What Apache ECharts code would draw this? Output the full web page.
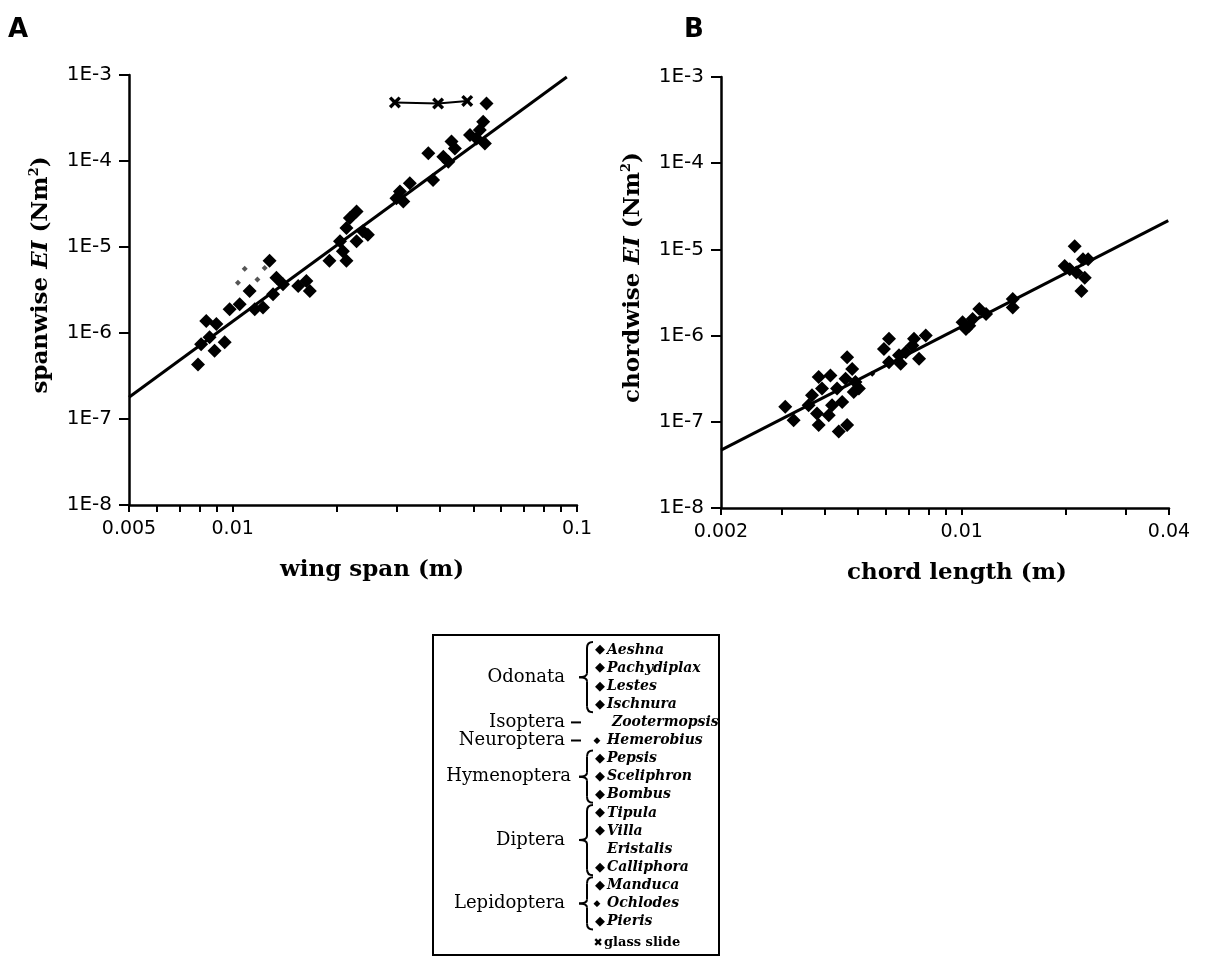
<!DOCTYPE html>
<html>
<head>
<meta charset="utf-8">
<title>wing flexural stiffness</title>
<script src="https://cdn.jsdelivr.net/npm/echarts@6.0.0/dist/echarts.min.js"></script>
<style>
  html, body { margin: 0; padding: 0; background: #fff; }
  #main { width: 1205px; height: 958px; }
</style>
</head>
<body>
<div id="main"></div>
<script>
// ---- panel A : spanwise EI vs wing span ----
var spanX = [0.00793, 0.00886, 0.00948, 0.00838, 0.00897, 0.0081, 0.00857, 0.0098, 0.01048, 0.01159,
  0.01225, 0.0112, 0.0128, 0.0134, 0.0131, 0.014, 0.01637, 0.01675, 0.0155, 0.0191,
  0.0214, 0.0209, 0.0229, 0.0219, 0.0239, 0.0247, 0.0214, 0.0229, 0.0205, 0.0306,
  0.0327, 0.0313, 0.0299, 0.037, 0.0382, 0.0409, 0.0432, 0.0442, 0.0423, 0.0489,
  0.0522, 0.054, 0.0534, 0.0546, 0.0511];
var spanEI = [4.3e-7, 6.2e-7, 7.8e-7, 1.38e-6, 1.27e-6, 7.4e-7, 8.9e-7, 1.89e-6, 2.16e-6, 1.89e-6,
  1.98e-6, 3.08e-6, 6.9e-6, 4.4e-6, 2.82e-6, 3.68e-6, 4.02e-6, 3.08e-6, 3.52e-6, 6.9e-6,
  6.9e-6, 8.9e-6, 2.59e-5, 2.17e-5, 1.52e-5, 1.39e-5, 1.66e-5, 1.17e-5, 1.17e-5, 4.43e-5,
  5.5e-5, 3.39e-5, 3.7e-5, 1.23e-4, 6.0e-5, 1.12e-4, 1.68e-4, 1.4e-4, 9.8e-5, 2.0e-4,
  2.29e-4, 1.6e-4, 2.86e-4, 4.66e-4, 1.83e-4];
var spanSmallX = [0.01084, 0.01036, 0.0118, 0.01239];
var spanSmallEI = [5.6e-6, 3.85e-6, 4.2e-6, 5.7e-6];
var glassX = [0.0296, 0.0395, 0.048];
var glassEI = [4.8e-4, 4.66e-4, 5.0e-4];
var spanFitX = [0.005, 0.0934];
var spanFitEI = [1.79e-7, 9.5e-4];

// ---- panel B : chordwise EI vs chord length ----
var chordX = [0.003073, 0.00325, 0.003594, 0.0038, 0.003844, 0.003675, 0.004111, 0.00393, 0.004157, 0.003844,
  0.004395, 0.004648, 0.004648, 0.004808, 0.0046, 0.00486, 0.005028, 0.004497, 0.004346, 0.004915,
  0.004203, 0.005945, 0.00615, 0.00615, 0.006651, 0.006878, 0.00719, 0.007519, 0.007864, 0.00727,
  0.006577, 0.01006, 0.01052, 0.01125, 0.01076, 0.01177, 0.01029, 0.01407, 0.01407, 0.0206,
  0.02129, 0.02251, 0.02277, 0.02227, 0.01991, 0.02153, 0.02329];
var chordEI = [1.49e-7, 1.04e-7, 1.56e-7, 1.25e-7, 9.2e-8, 2.03e-7, 1.19e-7, 2.43e-7, 3.45e-7, 3.3e-7,
  7.7e-8, 9.2e-8, 5.6e-7, 4.1e-7, 3.16e-7, 2.22e-7, 2.43e-7, 1.7e-7, 2.43e-7, 2.9e-7,
  1.56e-7, 7.0e-7, 9.2e-7, 4.9e-7, 4.7e-7, 6.4e-7, 7.7e-7, 5.4e-7, 1.0e-6, 9.2e-7,
  5.9e-7, 1.43e-6, 1.3e-6, 2.03e-6, 1.56e-6, 1.78e-6, 1.19e-6, 2.65e-6, 2.12e-6, 5.9e-6,
  1.09e-5, 7.7e-6, 4.7e-6, 3.3e-6, 6.4e-6, 5.4e-6, 7.7e-6];
var chordSmallX = [0.0055];
var chordSmallEI = [3.6e-7];
var chordFitX = [0.002, 0.0398];
var chordFitEI = [4.7e-8, 2.16e-5];

// ---- axis ticks / labels ----
var yTicks = [1e-8, 1e-7, 1e-6, 1e-5, 1e-4, 1e-3];
var spanTicks = [0.005, 0.006, 0.007, 0.008, 0.009, 0.01, 0.02, 0.03, 0.04, 0.05, 0.06, 0.07, 0.08, 0.09, 0.1];
var spanLabels = [0.005, 0.01, 0.1];
var chordTicks = [0.002, 0.003, 0.004, 0.005, 0.006, 0.007, 0.008, 0.009, 0.01, 0.02, 0.03, 0.04];
var chordLabels = [0.002, 0.01, 0.04];

// ---- legend text ----
var species = ['Aeshna', 'Pachydiplax', 'Lestes', 'Ischnura', 'Zootermopsis', 'Hemerobius', 'Pepsis',
  'Sceliphron', 'Bombus', 'Tipula', 'Villa', 'Eristalis', 'Calliphora', 'Manduca', 'Ochlodes', 'Pieris'];
var speciesMark = [2, 2, 2, 2, 0, 1, 2, 2, 2, 2, 2, 0, 2, 2, 1, 2];
var orders = ['Odonata', 'Isoptera', 'Neuroptera', 'Hymenoptera', 'Diptera', 'Lepidoptera'];
var orderFirst = [0, 4, 5, 6, 9, 13];
var orderLast = [3, 4, 5, 8, 12, 15];

function pairs(xs, ys) {
  return xs.map(function (x, i) { return [x, ys[i]]; });
}

var SANS = 'DejaVu Sans, sans-serif';
var SERIF = 'DejaVu Serif, serif';
var crossPath = 'path://M0,2L2,0L5,3L8,0L10,2L7,5L10,8L8,10L5,7L2,10L0,8L3,5Z';

function xAxisFor(idx, min, max, ticks, labels, name, shift) {
  return {
    type: 'log', gridIndex: idx, min: min, max: max,
    axisLine: { onZero: false, lineStyle: { color: '#000', width: 2.5 } },
    axisTick: { customValues: ticks, length: 7, lineStyle: { color: '#000', width: 2 } },
    axisLabel: {
      customValues: labels, color: '#000', fontFamily: SANS, fontSize: 19, margin: 15,
      formatter: function (v) { return String(parseFloat(Number(v).toPrecision(3))); }
    },
    splitLine: { show: false },
    name: name, nameLocation: 'middle', nameGap: 54,
    nameTextStyle: { color: '#000', fontFamily: SERIF, fontSize: 23, fontWeight: 'bold', padding: [0, 0, 0, shift] }
  };
}

function yAxisFor(idx, name) {
  return {
    type: 'log', gridIndex: idx, min: 1e-8, max: 1e-3,
    axisLine: { onZero: false, lineStyle: { color: '#000', width: 2.5 } },
    axisTick: { customValues: yTicks, length: 10, lineStyle: { color: '#000', width: 2 } },
    axisLabel: {
      customValues: yTicks, color: '#000', fontFamily: SANS, fontSize: 20, margin: 17,
      formatter: function (v) { return '1E' + Math.round(Math.log10(v)); }
    },
    splitLine: { show: false },
    name: name, nameLocation: 'middle', nameGap: 74, nameRotate: 90,
    nameTextStyle: {
      color: '#000', fontFamily: SERIF, fontSize: 23, fontWeight: 'bold', padding: [0, 0, 0, 30],
      rich: {
        a: { fontFamily: SERIF, fontSize: 23, fontWeight: 'bold', color: '#000', lineHeight: 27 },
        i: { fontFamily: SERIF, fontSize: 23, fontStyle: 'italic', fontWeight: 'bold', color: '#000', lineHeight: 27 },
        s: { fontFamily: SERIF, fontSize: 13, fontWeight: 'bold', color: '#000', verticalAlign: 'top', lineHeight: 27 }
      }
    }
  };
}

function scatter(idx, data, size, color) {
  return {
    type: 'scatter', xAxisIndex: idx, yAxisIndex: idx, data: data,
    symbol: 'diamond', symbolSize: size, itemStyle: { color: color, opacity: 1 }, silent: true
  };
}

function fitLine(idx, data) {
  return {
    type: 'line', xAxisIndex: idx, yAxisIndex: idx, data: data, symbol: 'none',
    lineStyle: { color: '#000', width: 3 }, silent: true, z: 1
  };
}

// legend built with graphic elements
var legendEls = [];
var rowY = function (i) { return 650 + i * 18.1; };
var stroke = { stroke: '#000', lineWidth: 2, fill: 'none' };
legendEls.push({ type: 'rect', shape: { x: 433, y: 635, width: 286, height: 320 }, style: stroke });
species.forEach(function (s, i) {
  if (speciesMark[i]) {
    legendEls.push({ type: 'text', x: speciesMark[i] === 2 ? 600 : 597, y: rowY(i),
      style: { text: '\u25C6', fill: '#000', font: (speciesMark[i] === 2 ? 13 : 9) + 'px ' + SANS,
        align: 'center', verticalAlign: 'middle' } });
  }
  legendEls.push({ type: 'text', x: s === 'Zootermopsis' ? 612 : 607, y: rowY(i),
    style: { text: s, fill: '#000', font: 'italic bold 14px ' + SERIF, verticalAlign: 'middle' } });
});
orders.forEach(function (o, k) {
  var y0 = rowY(orderFirst[k]), y1 = rowY(orderLast[k]), ym = (y0 + y1) / 2;
  legendEls.push({ type: 'text', x: o === 'Hymenoptera' ? 571 : 565, y: ym,
    style: { text: o, fill: '#000', font: '18px ' + SERIF, align: 'right', verticalAlign: 'middle' } });
  if (orderFirst[k] === orderLast[k]) {
    legendEls.push({ type: 'line', shape: { x1: 571, y1: ym, x2: 581, y2: ym }, style: stroke });
  } else {
    var xb = 587, t = y0 - 8, b = y1 + 8;
    legendEls.push({ type: 'bezierCurve', shape: { x1: xb + 6, y1: t, cpx1: xb, cpy1: t, x2: xb, y2: t + 6 }, style: stroke });
    legendEls.push({ type: 'line', shape: { x1: xb, y1: t + 6, x2: xb, y2: ym - 4 }, style: stroke });
    legendEls.push({ type: 'bezierCurve', shape: { x1: xb, y1: ym - 4, cpx1: xb, cpy1: ym, x2: xb - 8, y2: ym }, style: stroke });
    legendEls.push({ type: 'bezierCurve', shape: { x1: xb - 8, y1: ym, cpx1: xb, cpy1: ym, x2: xb, y2: ym + 4 }, style: stroke });
    legendEls.push({ type: 'line', shape: { x1: xb, y1: ym + 4, x2: xb, y2: b - 6 }, style: stroke });
    legendEls.push({ type: 'bezierCurve', shape: { x1: xb, y1: b - 6, cpx1: xb, cpy1: b, x2: xb + 6, y2: b }, style: stroke });
  }
});
legendEls.push({ type: 'text', x: 598, y: 943,
  style: { text: '\u2716', fill: '#000', font: '11px ' + SANS, align: 'center', verticalAlign: 'middle' } });
legendEls.push({ type: 'text', x: 604, y: 943,
  style: { text: 'glass slide', fill: '#000', font: 'bold 13px ' + SERIF, verticalAlign: 'middle' } });
legendEls.push({ type: 'text', x: 8, y: 30,
  style: { text: 'A', fill: '#000', font: 'bold 26px ' + SANS, verticalAlign: 'middle' } });
legendEls.push({ type: 'text', x: 684, y: 30,
  style: { text: 'B', fill: '#000', font: 'bold 26px ' + SANS, verticalAlign: 'middle' } });

var option = {
  backgroundColor: '#fff',
  animation: false,
  grid: [
    { left: 129, top: 75, width: 448, height: 430, outerBoundsMode: 'none' },
    { left: 721, top: 77, width: 448, height: 431, outerBoundsMode: 'none' }
  ],
  xAxis: [
    xAxisFor(0, 0.005, 0.1, spanTicks, spanLabels, 'wing span (m)', 38),
    xAxisFor(1, 0.002, 0.04, chordTicks, chordLabels, 'chord length (m)', 24)
  ],
  yAxis: [
    yAxisFor(0, '{a|spanwise }{i|EI}{a| (Nm}{s|2}{a|)}'),
    yAxisFor(1, '{a|chordwise }{i|EI}{a| (Nm}{s|2}{a|)}')
  ],
  series: [
    fitLine(0, pairs(spanFitX, spanFitEI)),
    scatter(0, pairs(spanX, spanEI), 14, '#000'),
    scatter(0, pairs(spanSmallX, spanSmallEI), 6, '#555'),
    {
      type: 'line', xAxisIndex: 0, yAxisIndex: 0, data: pairs(glassX, glassEI),
      symbol: crossPath, symbolSize: 12, showAllSymbol: true,
      itemStyle: { color: '#000', opacity: 1 }, lineStyle: { color: '#000', width: 2 }, silent: true
    },
    fitLine(1, pairs(chordFitX, chordFitEI)),
    scatter(1, pairs(chordX, chordEI), 14, '#000'),
    scatter(1, pairs(chordSmallX, chordSmallEI), 6, '#000')
  ],
  graphic: legendEls
};

var myChart = echarts.init(document.getElementById('main'));
myChart.setOption(option);
</script>
</body>
</html>
